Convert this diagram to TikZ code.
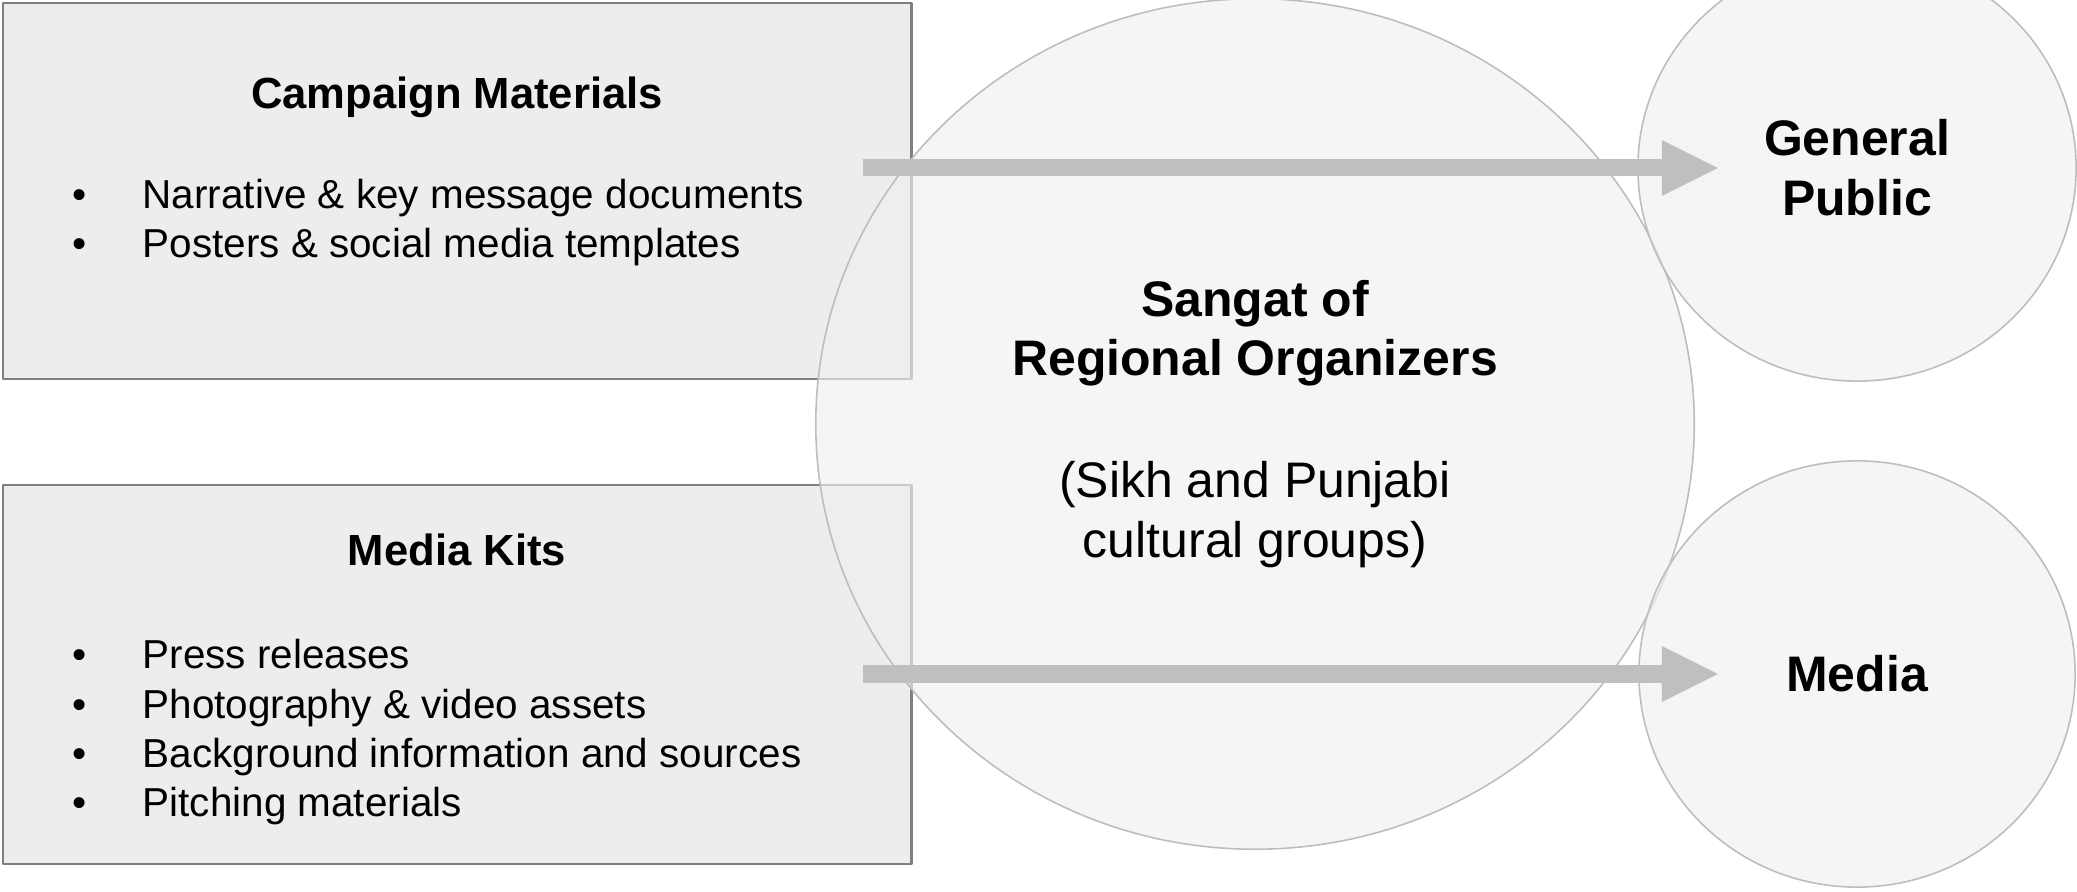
\documentclass[tikz,border=0pt]{standalone}
\usepackage{fontspec}
\setmainfont{Liberation Sans}
\usetikzlibrary{arrows.meta,shapes.geometric}
\definecolor{boxfill}{HTML}{EDEDED}
\definecolor{boxline}{HTML}{7F7F7F}
\definecolor{ringfill}{HTML}{F0F0F0}
\definecolor{ringline}{HTML}{BDBDBD}
\definecolor{flowgray}{HTML}{BFBFBF}
\newcommand{\bulletline}[1]{\makebox[0.70cm][l]{\textbullet}#1}

\begin{document}
\begin{tikzpicture}[line cap=round,line join=round,x=0.01cm,y=-0.01cm,
    panel/.style={draw=boxline,fill=boxfill,line width=0.7pt,minimum width=9.08cm,inner sep=0},
    heading/.style={anchor=base,font=\fontsize{12.4pt}{15pt}\selectfont\bfseries,inner sep=0},
    listline/.style={anchor=base west,font=\fontsize{11.5pt}{14pt}\selectfont,inner sep=0},
    ring/.style={ellipse,draw=ringline,line width=0.45pt,fill=ringfill,fill opacity=0.66,text opacity=1,inner sep=0,align=center},
    flow/.style={draw=flowgray,line width=0.17cm,line cap=butt,-{Triangle[length=0.56cm,width=0.56cm,line width=0pt]}}]
      \useasboundingbox (0,0) rectangle (2077,892);

      \node[panel,minimum height=3.76cm] (camp) at (457,191) {};
      \node[panel,minimum height=3.79cm] (kits) at (457,674.5) {};

      \node[heading] (camphead) at (457,109) {Campaign Materials};
      \node[heading] (kitshead) at (457,566) {Media Kits};

      \foreach \txt [count=\i] in {Narrative \& key message documents,Posters \& social media templates}{
        \node[listline] (campitem\i) at (72,160+49*\i) {\bulletline{\txt}};
      }
      \foreach \txt [count=\i] in {Press releases,Photography \& video assets,Background information and sources,Pitching materials}{
        \node[listline] (kitsitem\i) at (72,620+49*\i) {\bulletline{\txt}};
      }

      \node[ring,minimum width=8.78cm,minimum height=8.50cm,font=\fontsize{14.2pt}{16.8pt}\selectfont] (sangat) at (1255,424)
        {\textbf{Sangat of}\\\textbf{Regional Organizers}\\[0.63cm](Sikh and Punjabi\\cultural groups)};

      \node[ring,minimum width=4.38cm,minimum height=4.26cm,font=\fontsize{14.2pt}{17pt}\selectfont\bfseries] (public) at (1857,168) {General\\Public};
      \node[ring,minimum width=4.36cm,minimum height=4.26cm,font=\fontsize{14.2pt}{17pt}\selectfont\bfseries] (media) at (1857,674) {Media};

      \coordinate (publicin) at ([xshift=-1.39cm]public.center);
      \coordinate (mediain) at ([xshift=-1.39cm]media.center);
      \draw[flow] (camp.east |- publicin) ++(-50,0) -- (publicin);
      \draw[flow] (kits.east |- mediain) ++(-50,0) -- (mediain);
    \end{tikzpicture}
\end{document}
